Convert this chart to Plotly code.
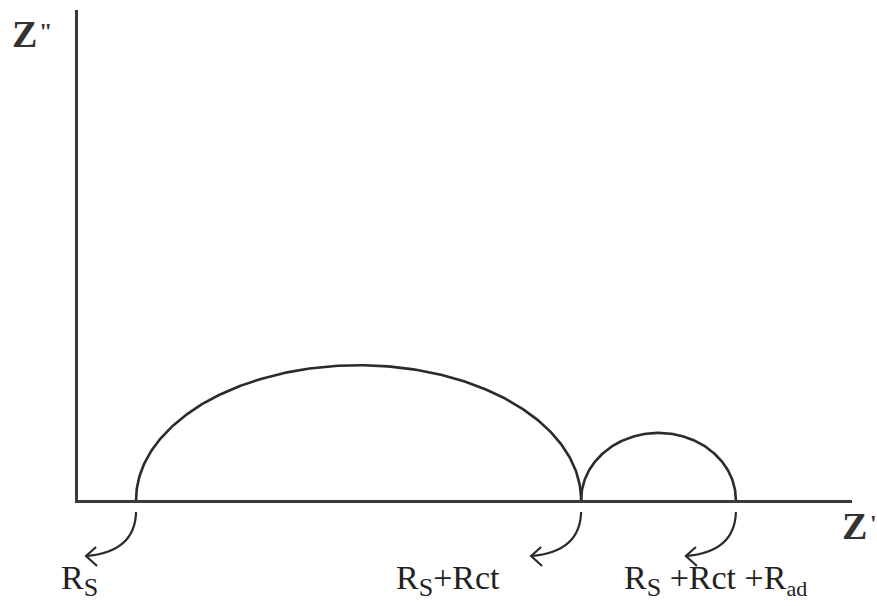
import numpy as np
import plotly.graph_objects as go

# Equivalent-circuit resistances (arbitrary units along Z')
resistance_names = ["Rs", "Rct", "Rad"]
resistance_values = [7.5, 57.5, 20.0]

# Heights of the two arcs along Z''
arc_heights = [27.5, 13.7]

# Labels placed under the axis at the cumulative resistances
SUB_S = "<sub><span style='font-size:26px'>S</span></sub>"
SUB_AD = "<sub><span style='font-size:22px'>ad</span></sub>"
point_labels = [
    "R" + SUB_S,
    "R" + SUB_S + "+Rct",
    "R" + SUB_S + " +Rct +R" + SUB_AD,
]
label_shifts = [-77, -187, -114]

# Axis titles: letter and prime marks
axis_letters = ["Z", "Z"]
axis_primes = ["\"", "'"]

X_RANGE = [0, 100]
Y_RANGE = [0, 100]

LINE = "#2b2b2b"
TEXT = "#333333"
SERIF = "Liberation Serif"

rs, rct, rad = resistance_values
arc_starts = [rs, rs + rct]
arc_widths = [rct, rad]
marks = [rs, rs + rct, rs + rct + rad]

fig = go.Figure()

# Two semi-elliptical arcs of the impedance spectrum
theta = np.linspace(0, np.pi, 241)
for x0, w, h in zip(arc_starts, arc_widths, arc_heights):
    fig.add_trace(go.Scatter(
        x=x0 + w / 2 * (1 - np.cos(theta)),
        y=h * np.sin(theta),
        mode="lines",
        line=dict(color=LINE, width=2.6),
        hoverinfo="skip",
        showlegend=False,
    ))

# Curved arrows from each intercept down to its label (pixel offsets,
# anchored at the intercept on the plot's bottom edge)
arrow_body = "M 0 -12 Q -1 -52 -50 -56"
arrow_head = "M -40 -47 L -50 -56 L -39 -66"
for xm, text, dx in zip(marks, point_labels, label_shifts):
    frac = (xm - X_RANGE[0]) / (X_RANGE[1] - X_RANGE[0])
    for p in (arrow_body, arrow_head):
        fig.add_shape(
            type="path", path=p,
            xref="paper", yref="paper",
            xsizemode="pixel", ysizemode="pixel",
            xanchor=frac, yanchor=0,
            line=dict(color=LINE, width=2.2),
        )
    fig.add_annotation(
        x=xm, y=0, xref="x", yref="y",
        text=text, showarrow=False,
        xanchor="left", yanchor="top",
        xshift=dx, yshift=-57,
        font=dict(family=SERIF, size=34, color="#222222"),
    )

# Axis titles (bold letter with a small raised prime)
title_pos = [(-0.088, 0.997), (0.985, -0.006)]
prime_shift = [(27, -5), (28, -5)]
for letter, prime, (px, py), (sx, sy) in zip(axis_letters, axis_primes,
                                              title_pos, prime_shift):
    fig.add_annotation(
        x=px, y=py, xref="paper", yref="paper",
        text="<b>" + letter + "</b>", showarrow=False,
        xanchor="left", yanchor="top",
        font=dict(family=SERIF, size=38, color=TEXT),
    )
    fig.add_annotation(
        x=px, y=py, xref="paper", yref="paper",
        text="<b>" + prime + "</b>", showarrow=False,
        xanchor="left", yanchor="top", xshift=sx, yshift=sy,
        font=dict(family=SERIF, size=24, color=TEXT),
    )

axis_common = dict(
    showgrid=False, zeroline=False, ticks="", showticklabels=False,
    showline=True, linecolor="#3a3a3a", linewidth=3, fixedrange=True,
)
fig.update_layout(
    width=877, height=606,
    margin=dict(l=78, r=25, t=10, b=106),
    paper_bgcolor="white", plot_bgcolor="white",
    xaxis=dict(range=X_RANGE, **axis_common),
    yaxis=dict(range=Y_RANGE, **axis_common),
)

fig.write_html("out.html")
